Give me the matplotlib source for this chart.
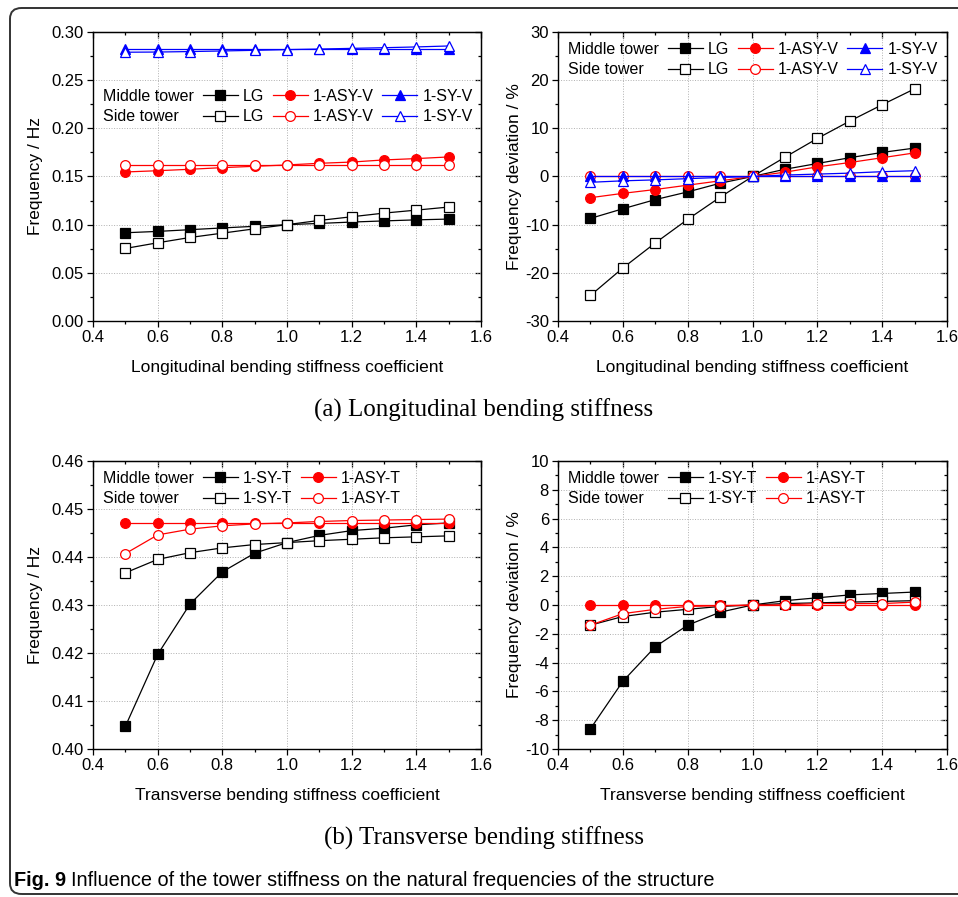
import numpy as np
import matplotlib
matplotlib.use('Agg')
import matplotlib.pyplot as plt
import matplotlib.ticker as ticker
from matplotlib.lines import Line2D
from matplotlib.patches import FancyBboxPatch

plt.rcParams['font.family'] = ['Liberation Sans', 'DejaVu Sans']
plt.rcParams['font.size'] = 12

coef = [0.5, 0.6, 0.7, 0.8, 0.9, 1.0, 1.1, 1.2, 1.3, 1.4, 1.5]

# (a) longitudinal bending stiffness, frequency / Hz
a_mid_lg = [0.0916, 0.0930, 0.0948, 0.0966, 0.0983, 0.1000, 0.1013, 0.1027, 0.1039, 0.1050, 0.1058]
a_side_lg = [0.0753, 0.0812, 0.0867, 0.0912, 0.0957, 0.1000, 0.1044, 0.1082, 0.1120, 0.1151, 0.1183]
a_mid_asy = [0.1547, 0.1560, 0.1575, 0.1592, 0.1606, 0.1620, 0.1637, 0.1650, 0.1672, 0.1686, 0.1703]
a_side_asy = [0.1620, 0.1620, 0.1620, 0.1620, 0.1620, 0.1620, 0.1620, 0.1620, 0.1620, 0.1620, 0.1620]
a_mid_sy = [0.2825, 0.2825, 0.2825, 0.2825, 0.2825, 0.2825, 0.2825, 0.2825, 0.2825, 0.2825, 0.2825]
a_side_sy = [0.2790, 0.2792, 0.2797, 0.2803, 0.2810, 0.2817, 0.2823, 0.2830, 0.2837, 0.2845, 0.2855]

# (a) deviation / %
a_dev_mid_lg = [-8.7, -6.7, -4.8, -3.2, -1.4, 0.0, 1.5, 2.7, 3.9, 5.0, 5.9]
a_dev_side_lg = [-24.7, -19.0, -13.8, -8.9, -4.3, 0.0, 4.0, 7.9, 11.5, 14.9, 18.2]
a_dev_mid_asy = [-4.4, -3.5, -2.7, -1.8, -0.9, 0.0, 0.9, 2.0, 2.9, 3.9, 4.9]
a_dev_side_asy = [0.0, 0.0, 0.0, 0.0, 0.0, 0.0, 0.0, 0.0, 0.0, 0.0, 0.0]
a_dev_mid_sy = [0.0, 0.0, 0.0, 0.0, 0.0, 0.0, 0.0, 0.0, 0.0, 0.0, 0.0]
a_dev_side_sy = [-1.2, -0.9, -0.7, -0.45, -0.2, 0.0, 0.3, 0.5, 0.7, 1.0, 1.2]

# (b) transverse bending stiffness, frequency / Hz
b_mid_sy = [0.4047, 0.4197, 0.4302, 0.4369, 0.4408, 0.4430, 0.4445, 0.4455, 0.4460, 0.4467, 0.4471]
b_mid_asy = [0.4471, 0.4471, 0.4471, 0.4471, 0.4471, 0.4471, 0.4471, 0.4471, 0.4471, 0.4471, 0.4471]
b_side_sy = [0.4367, 0.4395, 0.4409, 0.4419, 0.4426, 0.4430, 0.4434, 0.4437, 0.4440, 0.4442, 0.4444]
b_side_asy = [0.4407, 0.4446, 0.4458, 0.4465, 0.4469, 0.4471, 0.4474, 0.4476, 0.4477, 0.4478, 0.4479]

# (b) deviation / %
b_dev_mid_sy = [-8.6, -5.3, -2.9, -1.4, -0.5, 0.0, 0.3, 0.5, 0.7, 0.8, 0.9]
b_dev_mid_asy = [0.0, 0.0, 0.0, 0.0, 0.0, 0.0, 0.0, 0.0, 0.0, 0.0, 0.0]
b_dev_side_sy = [-1.4, -0.8, -0.5, -0.3, -0.1, 0.0, 0.1, 0.15, 0.2, 0.25, 0.3]
b_dev_side_asy = [-1.4, -0.6, -0.3, -0.1, -0.05, 0.0, 0.0, 0.1, 0.1, 0.1, 0.2]

W, H = 958, 897
fig = plt.figure(figsize=(W / 100, H / 100), dpi=100)

TICK_FS = 12
LABEL_FS = 12.5
LEG_FS = 11.5


def px_axes(l, t, r, b):
    return fig.add_axes([l / W, 1 - b / H, (r - l) / W, (b - t) / H])


def style(ax, ylim, ymaj, ymin, yfmt):
    ax.set_xlim(0.4, 1.6)
    ax.set_ylim(*ylim)
    ax.xaxis.set_major_locator(ticker.MultipleLocator(0.2))
    ax.xaxis.set_minor_locator(ticker.MultipleLocator(0.1))
    ax.yaxis.set_major_locator(ticker.MultipleLocator(ymaj))
    ax.yaxis.set_minor_locator(ticker.MultipleLocator(ymin))
    ax.xaxis.set_major_formatter(ticker.FormatStrFormatter('%.1f'))
    ax.yaxis.set_major_formatter(ticker.FormatStrFormatter(yfmt))
    ax.tick_params(which='both', direction='out', labelsize=TICK_FS, pad=2)
    ax.tick_params(which='major', length=4.5, width=0.9)
    ax.tick_params(which='minor', length=2.5, width=0.9)
    ax.grid(which='major', linestyle=':', linewidth=0.7, color='#b0b0b0')
    for s in ax.spines.values():
        s.set_linewidth(1.0)
    top = ax.secondary_xaxis('top')
    top.xaxis.set_major_locator(ticker.MultipleLocator(0.2))
    top.xaxis.set_minor_locator(ticker.MultipleLocator(0.1))
    right = ax.secondary_yaxis('right')
    right.yaxis.set_major_locator(ticker.MultipleLocator(ymaj))
    right.yaxis.set_minor_locator(ticker.MultipleLocator(ymin))
    for sec in (top, right):
        sec.tick_params(which='both', direction='in', labeltop=False, labelright=False)
        sec.tick_params(which='major', length=4.5, width=0.9)
        sec.tick_params(which='minor', length=2.5, width=0.9)


def series(ax, y, color, marker, filled):
    ax.plot(coef, y, color=color, linewidth=0.9, marker=marker,
            markersize=7 if marker == 'o' else 6.5,
            markerfacecolor=color if filled else 'white',
            markeredgecolor=color, markeredgewidth=0.9, clip_on=False, zorder=3)


def handle(color, marker, filled):
    return Line2D([], [], color=color, linewidth=0.9, marker=marker,
                  markersize=7 if marker == 'o' else 6.5,
                  markerfacecolor=color if filled else 'white',
                  markeredgecolor=color, markeredgewidth=0.9)


def legend(ax, specs, top_px):
    blank = Line2D([], [], linestyle='none')
    hs = [blank, blank]
    ls = ['Middle tower', 'Side tower']
    for lab, color, marker in specs:
        hs += [handle(color, marker, True), handle(color, marker, False)]
        ls += [lab, lab]
    fs = LEG_FS * 100 / 72
    axw = ax.get_position().width * W
    axh = ax.get_position().height * H
    x0 = (10 - (2.2 + 0.3) * fs) / axw
    y0 = 1 - top_px / axh
    ax.legend(hs, ls, ncol=len(specs) + 1, loc='upper left', bbox_to_anchor=(x0, y0),
              frameon=False, borderpad=0, borderaxespad=0, handlelength=2.2,
              handletextpad=0.3, columnspacing=0.55, labelspacing=0.33, fontsize=LEG_FS)


# (a) left
ax1 = px_axes(93, 32, 481, 321)
style(ax1, (0, 0.30), 0.05, 0.025, '%.2f')
series(ax1, a_mid_lg, 'black', 's', True)
series(ax1, a_side_lg, 'black', 's', False)
series(ax1, a_mid_asy, 'red', 'o', True)
series(ax1, a_side_asy, 'red', 'o', False)
series(ax1, a_mid_sy, 'blue', '^', True)
series(ax1, a_side_sy, 'blue', '^', False)
ax1.set_ylabel('Frequency / Hz', fontsize=LABEL_FS, labelpad=6)
ax1.set_xlabel('Longitudinal bending stiffness coefficient', fontsize=LABEL_FS, labelpad=11)
legend(ax1, [('LG', 'black', 's'), ('1-ASY-V', 'red', 'o'), ('1-SY-V', 'blue', '^')], 57)

# (a) right
ax2 = px_axes(558, 32, 947, 321)
style(ax2, (-30, 30), 10, 5, '%d')
series(ax2, a_dev_mid_lg, 'black', 's', True)
series(ax2, a_dev_side_lg, 'black', 's', False)
series(ax2, a_dev_mid_asy, 'red', 'o', True)
series(ax2, a_dev_side_asy, 'red', 'o', False)
series(ax2, a_dev_mid_sy, 'blue', '^', True)
series(ax2, a_dev_side_sy, 'blue', '^', False)
ax2.set_ylabel('Frequency deviation / %', fontsize=LABEL_FS, labelpad=2)
ax2.set_xlabel('Longitudinal bending stiffness coefficient', fontsize=LABEL_FS, labelpad=11)
legend(ax2, [('LG', 'black', 's'), ('1-ASY-V', 'red', 'o'), ('1-SY-V', 'blue', '^')], 10)

# (b) left
ax3 = px_axes(93, 461, 481, 749)
style(ax3, (0.40, 0.46), 0.01, 0.005, '%.2f')
series(ax3, b_mid_sy, 'black', 's', True)
series(ax3, b_side_sy, 'black', 's', False)
series(ax3, b_mid_asy, 'red', 'o', True)
series(ax3, b_side_asy, 'red', 'o', False)
ax3.set_ylabel('Frequency / Hz', fontsize=LABEL_FS, labelpad=6)
ax3.set_xlabel('Transverse bending stiffness coefficient', fontsize=LABEL_FS, labelpad=11)
legend(ax3, [('1-SY-T', 'black', 's'), ('1-ASY-T', 'red', 'o')], 10)

# (b) right
ax4 = px_axes(558, 461, 947, 749)
style(ax4, (-10, 10), 2, 1, '%d')
series(ax4, b_dev_mid_sy, 'black', 's', True)
series(ax4, b_dev_side_sy, 'black', 's', False)
series(ax4, b_dev_mid_asy, 'red', 'o', True)
series(ax4, b_dev_side_asy, 'red', 'o', False)
ax4.set_ylabel('Frequency deviation / %', fontsize=LABEL_FS, labelpad=2)
ax4.set_xlabel('Transverse bending stiffness coefficient', fontsize=LABEL_FS, labelpad=11)
legend(ax4, [('1-SY-T', 'black', 's'), ('1-ASY-T', 'red', 'o')], 10)

fig.text(484 / W, 1 - 410 / H, '(a) Longitudinal bending stiffness', ha='center', va='center',
         fontsize=18, family='Liberation Serif')
fig.text(484 / W, 1 - 838 / H, '(b) Transverse bending stiffness', ha='center', va='center',
         fontsize=18, family='Liberation Serif')

cap = fig.text(14 / W, 1 - 880 / H, 'Fig. 9', ha='left', va='center', fontsize=14.3,
               fontweight='bold')
renderer = fig.canvas.get_renderer()
bb = cap.get_window_extent(renderer)
fig.text((bb.x1 + 5) / W, 1 - 880 / H,
         'Influence of the tower stiffness on the natural frequencies of the structure',
         ha='left', va='center', fontsize=14.3)

frame = FancyBboxPatch((10 / W, 3 / H), 960 / W, 886 / H, boxstyle='round,pad=0,rounding_size=0.012',
                       transform=fig.transFigure, fill=False, edgecolor='#333333', linewidth=1.4)
fig.patches.append(frame)

fig.savefig('out.png', dpi=100)
